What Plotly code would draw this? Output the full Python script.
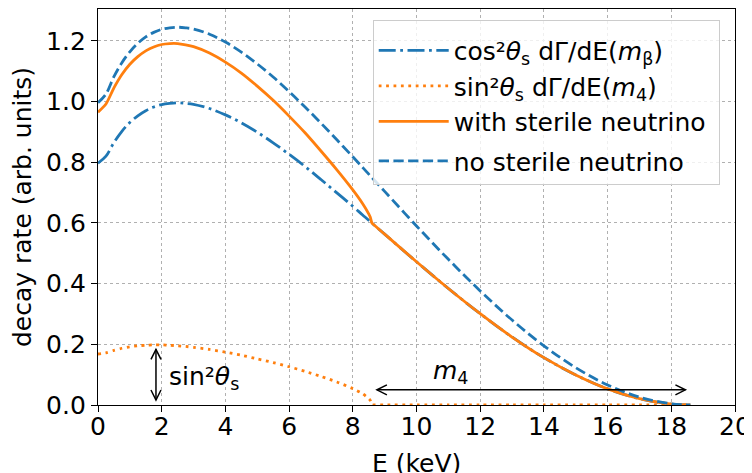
import plotly.graph_objects as go

# ---------------- data ----------------
energy_kev = [0, 0.25, 0.5, 0.75, 1, 1.25, 1.5, 1.75, 2, 2.25, 2.5, 2.75, 3, 3.5, 4, 4.5, 5,
              5.5, 6, 6.5, 7, 7.5, 8, 8.3, 8.5, 8.55, 8.6, 8.65, 9, 10, 11, 12, 13, 14, 15,
              16, 17, 18, 18.6]

cos_component = [0.797, 0.820, 0.865, 0.902, 0.931, 0.953, 0.970, 0.982, 0.990, 0.994, 0.996,
                 0.994, 0.991, 0.977, 0.956, 0.930, 0.899, 0.864, 0.826, 0.786, 0.743, 0.699,
                 0.655, 0.627, 0.609, 0.604, 0.600, 0.595, 0.563, 0.472, 0.384, 0.301, 0.224,
                 0.156, 0.099, 0.053, 0.021, 0.003, 0.0]

sin_component = [0.168, 0.172, 0.180, 0.187, 0.192, 0.195, 0.197, 0.198, 0.198, 0.197, 0.195,
                 0.193, 0.190, 0.183, 0.174, 0.164, 0.152, 0.140, 0.126, 0.111, 0.094, 0.076,
                 0.054, 0.038, 0.021, 0.015, 0.0, 0.0, 0.0, 0.0, 0.0, 0.0, 0.0,
                 0.0, 0.0, 0.0, 0.0, 0.0, 0.0]

with_sterile = [0.965, 0.992, 1.045, 1.089, 1.123, 1.148, 1.167, 1.180, 1.188, 1.191, 1.191,
                1.187, 1.181, 1.160, 1.130, 1.094, 1.051, 1.004, 0.952, 0.897, 0.837, 0.775,
                0.709, 0.665, 0.630, 0.619, 0.600, 0.595, 0.563, 0.472, 0.384, 0.301, 0.224,
                0.156, 0.099, 0.053, 0.021, 0.003, 0.0]

no_sterile = [0.9965, 1.025, 1.082, 1.128, 1.164, 1.192, 1.213, 1.228, 1.238, 1.243, 1.245,
              1.243, 1.239, 1.222, 1.196, 1.163, 1.124, 1.081, 1.033, 0.982, 0.929, 0.874,
              0.818, 0.784, 0.761, 0.755, 0.750, 0.744, 0.704, 0.590, 0.480, 0.376, 0.280,
              0.195, 0.123, 0.066, 0.026, 0.004, 0.0]

series_names = [
    "cos²<i>θ</i><sub>s</sub> dΓ/dE(<i>m</i><sub>β</sub>)\u00a0",
    "sin²<i>θ</i><sub>s</sub> dΓ/dE(<i>m</i><sub>4</sub>)\u00a0",
    "with sterile neutrino\u00a0",
    "no sterile neutrino\u00a0",
]

x_title = "E (keV)"
y_title = "decay rate (arb. units)"

x_ticks = [0, 2, 4, 6, 8, 10, 12, 14, 16, 18, 20]
y_ticks = [0.0, 0.2, 0.4, 0.6, 0.8, 1.0, 1.2]
y_tick_labels = ["0.0", "0.2", "0.4", "0.6", "0.8", "1.0", "1.2"]

# annotation anchors (data units)
sin_arrow_x = 1.82
sin_arrow_y = (0.0, 0.2)
m4_arrow_y = 0.05
m4_arrow_x = (8.6, 18.6)

# ---------------- layout constants ----------------
# the page body adds an 8px offset; margins compensate so the axes land where the reference has them
W, H = 752, 473
ML, MR, MT, MB = 90, 25, 1, 76
PLOT_W = W - ML - MR
PLOT_H = H - MT - MB
X_RANGE = [0, 20]
Y_RANGE = [0, 1.305]
PX_X = (X_RANGE[1] - X_RANGE[0]) / PLOT_W
PX_Y = (Y_RANGE[1] - Y_RANGE[0]) / PLOT_H

BLUE = "#1f77b4"
ORANGE = "#ff7f0e"
LW = 2.8
FONT = "DejaVu Sans"

fig = go.Figure()
fig.add_trace(go.Scatter(x=energy_kev, y=cos_component, mode="lines", name=series_names[0],
                         legendgroup="a",
                         line=dict(color=BLUE, width=LW, dash="17px,4.5px,2.8px,4.5px",
                                   shape="spline", smoothing=1)))
fig.add_trace(go.Scatter(x=energy_kev, y=sin_component, mode="lines", name=series_names[1],
                         legendgroup="a",
                         line=dict(color=ORANGE, width=LW, dash="2.8px,4.6px",
                                   shape="spline", smoothing=0.7)))
fig.add_trace(go.Scatter(x=energy_kev, y=with_sterile, mode="lines", name=series_names[2],
                         legendgroup="a",
                         line=dict(color=ORANGE, width=LW, shape="spline", smoothing=0.7)))
fig.add_trace(go.Scatter(x=energy_kev, y=no_sterile, mode="lines", name=series_names[3],
                         legendgroup="b",
                         line=dict(color=BLUE, width=LW, dash="10.3px,4.4px",
                                   shape="spline", smoothing=1)))

# ---------------- arrows ----------------
SHRINK = 5
HEAD_L, HEAD_W = 10, 5
shapes = []
y0 = sin_arrow_y[0] + SHRINK * PX_Y
y1 = sin_arrow_y[1] - SHRINK * PX_Y
xa = sin_arrow_x
shapes.append(dict(type="line", xref="x", yref="y", x0=xa, x1=xa, y0=y0, y1=y1,
                   line=dict(color="black", width=1.5)))
shapes.append(dict(type="path", xref="x", yref="y",
                   path=f"M {xa - HEAD_W*PX_X},{y1 - HEAD_L*PX_Y} L {xa},{y1} L {xa + HEAD_W*PX_X},{y1 - HEAD_L*PX_Y}",
                   line=dict(color="black", width=1.5)))
shapes.append(dict(type="path", xref="x", yref="y",
                   path=f"M {xa - HEAD_W*PX_X},{y0 + HEAD_L*PX_Y} L {xa},{y0} L {xa + HEAD_W*PX_X},{y0 + HEAD_L*PX_Y}",
                   line=dict(color="black", width=1.5)))
x0 = m4_arrow_x[0] + SHRINK * PX_X
x1 = m4_arrow_x[1] - SHRINK * PX_X
ya = m4_arrow_y
shapes.append(dict(type="line", xref="x", yref="y", x0=x0, x1=x1, y0=ya, y1=ya,
                   line=dict(color="black", width=1.5)))
shapes.append(dict(type="path", xref="x", yref="y",
                   path=f"M {x0 + HEAD_L*PX_X},{ya + HEAD_W*PX_Y} L {x0},{ya} L {x0 + HEAD_L*PX_X},{ya - HEAD_W*PX_Y}",
                   line=dict(color="black", width=1.5)))
shapes.append(dict(type="path", xref="x", yref="y",
                   path=f"M {x1 - HEAD_L*PX_X},{ya + HEAD_W*PX_Y} L {x1},{ya} L {x1 - HEAD_L*PX_X},{ya - HEAD_W*PX_Y}",
                   line=dict(color="black", width=1.5)))

annotations = [
    dict(x=sin_arrow_x + 0.35, y=0.088, xref="x", yref="y", xanchor="left", yanchor="middle",
         text="sin²<i>θ</i><sub>s</sub>", showarrow=False, font=dict(size=25, family=FONT)),
    dict(x=11.07, y=0.108, xref="x", yref="y", xanchor="center", yanchor="middle",
         text="<i>m</i><sub>4</sub>", showarrow=False, font=dict(size=25, family=FONT)),
    # x-axis title, placed as in the reference (partly below the page edge)
    dict(x=0.5, y=-(455 - (H - MB)) / PLOT_H, xref="paper", yref="paper",
         xanchor="center", yanchor="middle", text=x_title, showarrow=False,
         font=dict(size=25, family=FONT)),
]

axis_common = dict(showline=True, linecolor="black", linewidth=1.3, mirror=True,
                   ticks="outside", ticklen=6, tickwidth=1.3, tickcolor="black",
                   showgrid=True, gridcolor="#b0b0b0", gridwidth=1, griddash="dot",
                   zeroline=False, tickfont=dict(size=25, family=FONT, color="black"))

fig.update_layout(
    width=W, height=H,
    margin=dict(l=ML, r=MR, t=MT, b=MB, autoexpand=False),
    paper_bgcolor="white", plot_bgcolor="white",
    font=dict(family=FONT, size=25, color="black"),
    xaxis=dict(range=X_RANGE, tickvals=x_ticks, ticktext=[str(t) for t in x_ticks],
               ticklabelstandoff=-7, **axis_common),
    yaxis=dict(range=Y_RANGE, tickvals=y_ticks, ticktext=y_tick_labels,
               title=dict(text=y_title, font=dict(size=25, family=FONT)),
               **axis_common),
    legend=dict(x=0.976, y=0.972, xanchor="right", yanchor="top",
                bgcolor="rgba(255,255,255,0.8)", bordercolor="#cccccc", borderwidth=1,
                font=dict(size=25, family=FONT), itemwidth=70, tracegroupgap=4,
                traceorder="grouped",
                title=dict(text=" ", font=dict(size=5))),
    shapes=shapes,
    annotations=annotations,
    showlegend=True,
)

fig.write_html("out.html")
